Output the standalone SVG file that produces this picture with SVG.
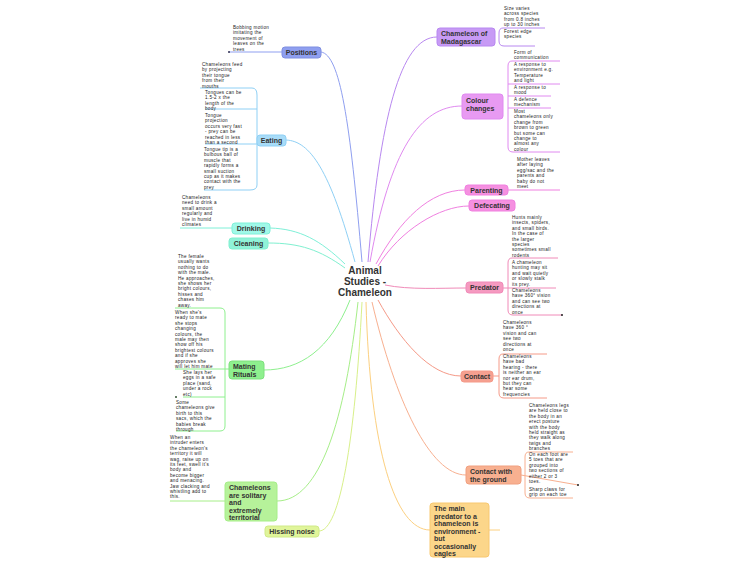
<svg xmlns="http://www.w3.org/2000/svg" width="750" height="563" viewBox="0 0 750 563">
<style>
.n{font-family:"Liberation Sans",Arial,sans-serif;font-size:4.6px;letter-spacing:0.3px;fill:#222}
.t{font-family:"Liberation Sans",Arial,sans-serif;font-size:7px;font-weight:bold;fill:#333}
.c{fill:none;stroke-width:1}
rect{stroke-width:1}
</style>
<rect width="750" height="563" fill="#fff"/>
<g id="connectors" class="c">
<path d="M362,262 C350,120 340,55 321,52" stroke="#8f9ff0"/>
<path d="M355,262 C330,170 310,141 286,140" stroke="#8fd0f5"/>
<path d="M345,264 C320,240 300,229 270,228" stroke="#7ff0d8"/>
<path d="M345,268 C320,250 300,243 268,243" stroke="#80f0d0"/>
<path d="M350,300 C330,350 300,370 264,370" stroke="#8ef08e"/>
<path d="M358,302 C345,420 320,501 277,501" stroke="#a6ee88"/>
<path d="M362,302 C355,440 340,531 319,531" stroke="#d8f08a"/>
<path d="M368,262 C380,120 400,37 437,37" stroke="#b888f0"/>
<path d="M370,262 C390,150 420,106 462,106" stroke="#e08af0"/>
<path d="M376,264 C400,220 430,190 465,190" stroke="#f080e0"/>
<path d="M378,266 C400,230 440,206 469,206" stroke="#f080e0"/>
<path d="M385,285 C410,290 440,288 466,288" stroke="#f08ab8"/>
<path d="M378,300 C400,340 430,376 461,376" stroke="#f59a88"/>
<path d="M372,302 C395,400 430,475 466,475" stroke="#f8b090"/>
<path d="M366,302 C370,450 395,530 430,530" stroke="#fcd080"/>
<!-- leaf lines -->
<g stroke="#8f9ff0"><path d="M229,52 L282,52"/></g>
<g stroke="#8fd0f5"><path d="M200,88 L252,88 M252,88 Q257,88 257,95 L257,185 Q257,190 250,190 L204,190 M205,109 L257,109 M205,144 L257,144 M257,140 L257,140"/></g>
<g stroke="#7ff0d8"><path d="M180,228 L232,228"/></g>
<g stroke="#8ef08e"><path d="M175,308 L220,308 Q225,308 225,313 L225,426 Q225,431 220,431 L176,431 M175,369 L229,369 M183,397 L225,397"/></g>
<g stroke="#a6ee88"><path d="M170,501 L225,501"/></g>
<g stroke="#b888f0"><path d="M503,28 L545,28 M503,28 Q499,28 499,33 L499,41 Q499,46 504,46 L535,46"/></g>
<g stroke="#e08af0"><path d="M512,61 L560,61 M512,61 Q508,61 508,66 L508,147 Q508,152 513,152 L560,152 M508,84 L560,84 M508,96 L551,96 M508,108 L551,108"/></g>
<g stroke="#f080e0"><path d="M508,190 L560,190"/></g>
<g stroke="#f08ab8"><path d="M512,258 L558,258 M512,258 Q508,258 508,263 L508,310 Q508,315 513,315 L562,315 M503,288 L556,288"/></g>
<g stroke="#f59a88"><path d="M503,354 L547,354 M503,354 Q499,354 499,359 L499,393 Q499,398 504,398 L547,398 M493,376 L499,376"/></g>
<g stroke="#f8b090"><path d="M529,452 L573,452 M529,452 Q525,452 525,457 L525,493 Q525,498 530,498 L573,498 M521,475 L578,485"/></g>
<g stroke="#fcd080"><path d="M489,530 L500,530"/></g>
<circle cx="229" cy="52" r="1" fill="#335"/>
<circle cx="176" cy="397" r="1" fill="#353"/>
<circle cx="562" cy="315" r="1" fill="#222"/>
<circle cx="578" cy="485" r="1" fill="#222"/>
</g>
<g id="center"><text class="t" x="365" y="274" text-anchor="middle" font-size="10"><tspan x="365" style="font-size:10px">Animal</tspan><tspan x="365" dy="11" style="font-size:10px">Studies -</tspan><tspan x="365" dy="11" style="font-size:10px">Chameleon</tspan></text></g>
<g id="positions"><rect x="282" y="47" width="39" height="11" rx="3" fill="#8f9ff0" stroke="#7f8fe0"/><text class="t" x="301.5" y="55" text-anchor="middle">Positions</text>
<text class="n" x="233" y="29"><tspan x="233">Bobbing motion</tspan><tspan x="233" dy="5.4">imitating the</tspan><tspan x="233" dy="5.4">movement of</tspan><tspan x="233" dy="5.4">leaves on the</tspan><tspan x="233" dy="5.4">trees</tspan></text></g>
<g id="eating"><rect x="257" y="135" width="29" height="11" rx="3" fill="#a8dcf8" stroke="#8fd0f5"/><text class="t" x="271.5" y="143" text-anchor="middle">Eating</text>
<text class="n" x="202" y="66"><tspan x="202">Chameleons feed</tspan><tspan x="202" dy="5.4">by projecting</tspan><tspan x="202" dy="5.4">their tongue</tspan><tspan x="202" dy="5.4">from their</tspan><tspan x="202" dy="5.4">mouths</tspan></text>
<text class="n" x="205" y="94"><tspan x="205">Tongues can be</tspan><tspan x="205" dy="5.4">1.5-2 x the</tspan><tspan x="205" dy="5.4">length of the</tspan><tspan x="205" dy="5.4">body</tspan></text>
<text class="n" x="205" y="117"><tspan x="205">Tongue</tspan><tspan x="205" dy="5.4">projection</tspan><tspan x="205" dy="5.4">occurs very fast</tspan><tspan x="205" dy="5.4">- prey can be</tspan><tspan x="205" dy="5.4">reached in less</tspan><tspan x="205" dy="5.4">than a second</tspan></text>
<text class="n" x="204" y="151"><tspan x="204">Tongue tip is a</tspan><tspan x="204" dy="5.4">bulbous ball of</tspan><tspan x="204" dy="5.4">muscle that</tspan><tspan x="204" dy="5.4">rapidly forms a</tspan><tspan x="204" dy="5.4">small suction</tspan><tspan x="204" dy="5.4">cup as it makes</tspan><tspan x="204" dy="5.4">contact with the</tspan><tspan x="204" dy="5.4">prey</tspan></text></g>
<g id="drinking"><rect x="232" y="223" width="38" height="11" rx="3" fill="#a0f8e8" stroke="#7ff0d8"/><text class="t" x="251" y="231" text-anchor="middle">Drinking</text>
<text class="n" x="182" y="199"><tspan x="182">Chameleons</tspan><tspan x="182" dy="5.4">need to drink a</tspan><tspan x="182" dy="5.4">small amount</tspan><tspan x="182" dy="5.4">regularly and</tspan><tspan x="182" dy="5.4">live in humid</tspan><tspan x="182" dy="5.4">climates</tspan></text></g>
<g id="cleaning"><rect x="229" y="238" width="39" height="11" rx="3" fill="#90f2d8" stroke="#80f0d0"/><text class="t" x="248.5" y="246" text-anchor="middle">Cleaning</text></g>
<g id="mating"><rect x="229" y="361" width="35" height="18" rx="3" fill="#8ef08e" stroke="#7ee07e"/><text class="t" x="233" y="369"><tspan x="233">Mating</tspan><tspan x="233" dy="7.5">Rituals</tspan></text>
<text class="n" x="178" y="258"><tspan x="178">The female</tspan><tspan x="178" dy="5.4">usually wants</tspan><tspan x="178" dy="5.4">nothing to do</tspan><tspan x="178" dy="5.4">with the male.</tspan><tspan x="178" dy="5.4">He approaches,</tspan><tspan x="178" dy="5.4">she shows her</tspan><tspan x="178" dy="5.4">bright colours,</tspan><tspan x="178" dy="5.4">hisses and</tspan><tspan x="178" dy="5.4">chases him</tspan><tspan x="178" dy="5.4">away.</tspan></text>
<text class="n" x="175" y="314"><tspan x="175">When she's</tspan><tspan x="175" dy="5.4">ready to mate</tspan><tspan x="175" dy="5.4">she stops</tspan><tspan x="175" dy="5.4">changing</tspan><tspan x="175" dy="5.4">colours, the</tspan><tspan x="175" dy="5.4">male may then</tspan><tspan x="175" dy="5.4">show off his</tspan><tspan x="175" dy="5.4">brightest colours</tspan><tspan x="175" dy="5.4">and if she</tspan><tspan x="175" dy="5.4">approves she</tspan><tspan x="175" dy="5.4">will let him mate</tspan></text>
<text class="n" x="183" y="374"><tspan x="183">She lays her</tspan><tspan x="183" dy="5.4">eggs in a safe</tspan><tspan x="183" dy="5.4">place (sand,</tspan><tspan x="183" dy="5.4">under a rock</tspan><tspan x="183" dy="5.4">etc)</tspan></text>
<text class="n" x="176" y="404"><tspan x="176">Some</tspan><tspan x="176" dy="5.4">chameleons give</tspan><tspan x="176" dy="5.4">birth to this</tspan><tspan x="176" dy="5.4">sacs, which the</tspan><tspan x="176" dy="5.4">babies break</tspan><tspan x="176" dy="5.4">through</tspan></text></g>
<g id="solitary"><rect x="225" y="482" width="52" height="39" rx="3" fill="#b6f29a" stroke="#a6ee88"/><text class="t" x="229" y="490"><tspan x="229">Chameleons</tspan><tspan x="229" dy="7.5">are solitary</tspan><tspan x="229" dy="7.5">and</tspan><tspan x="229" dy="7.5">extremely</tspan><tspan x="229" dy="7.5">territorial</tspan></text>
<text class="n" x="170" y="439"><tspan x="170">When an</tspan><tspan x="170" dy="5.4">intruder enters</tspan><tspan x="170" dy="5.4">the chameleon's</tspan><tspan x="170" dy="5.4">territory it will</tspan><tspan x="170" dy="5.4">wag, raise up on</tspan><tspan x="170" dy="5.4">its feet, swell it's</tspan><tspan x="170" dy="5.4">body and</tspan><tspan x="170" dy="5.4">become bigger</tspan><tspan x="170" dy="5.4">and menacing.</tspan><tspan x="170" dy="5.4">Jaw clacking and</tspan><tspan x="170" dy="5.4">whistling add to</tspan><tspan x="170" dy="5.4">this.</tspan></text></g>
<g id="hissing"><rect x="265" y="526" width="54" height="11" rx="3" fill="#e0f59a" stroke="#d0ea88"/><text class="t" x="292" y="534" text-anchor="middle">Hissing noise</text></g>
<g id="madagascar"><rect x="437" y="28" width="58" height="18" rx="3" fill="#c79af5" stroke="#b888f0"/><text class="t" x="441" y="36"><tspan x="441">Chameleon of</tspan><tspan x="441" dy="7.5">Madagascar</tspan></text>
<text class="n" x="504" y="10"><tspan x="504">Size varies</tspan><tspan x="504" dy="5.4">across species</tspan><tspan x="504" dy="5.4">from 0.8 inches</tspan><tspan x="504" dy="5.4">up to 30 inches</tspan></text>
<text class="n" x="504" y="33"><tspan x="504">Forest edge</tspan><tspan x="504" dy="5.4">species</tspan></text></g>
<g id="colour"><rect x="462" y="94" width="41" height="25" rx="3" fill="#e89af2" stroke="#e08af0"/><text class="t" x="466" y="103"><tspan x="466">Colour</tspan><tspan x="466" dy="7.5">changes</tspan></text>
<text class="n" x="514" y="54"><tspan x="514">Form of</tspan><tspan x="514" dy="5.4">communication</tspan></text>
<text class="n" x="514" y="66"><tspan x="514">A response to</tspan><tspan x="514" dy="5.4">environment e.g.</tspan><tspan x="514" dy="5.4">Temperature</tspan><tspan x="514" dy="5.4">and light</tspan></text>
<text class="n" x="514" y="89"><tspan x="514">A response to</tspan><tspan x="514" dy="5.4">mood</tspan></text>
<text class="n" x="514" y="101"><tspan x="514">A defence</tspan><tspan x="514" dy="5.4">mechanism</tspan></text>
<text class="n" x="514" y="113"><tspan x="514">Most</tspan><tspan x="514" dy="5.4">chameleons only</tspan><tspan x="514" dy="5.4">change from</tspan><tspan x="514" dy="5.4">brown to green</tspan><tspan x="514" dy="5.4">but some can</tspan><tspan x="514" dy="5.4">change to</tspan><tspan x="514" dy="5.4">almost any</tspan><tspan x="514" dy="5.4">colour</tspan></text></g>
<g id="parenting"><rect x="465" y="185" width="43" height="10" rx="3" fill="#f590e0" stroke="#f080e0"/><text class="t" x="486.5" y="192.5" text-anchor="middle">Parenting</text>
<text class="n" x="517" y="161"><tspan x="517">Mother leaves</tspan><tspan x="517" dy="5.4">after laying</tspan><tspan x="517" dy="5.4">egg/sac and the</tspan><tspan x="517" dy="5.4">parents and</tspan><tspan x="517" dy="5.4">baby do not</tspan><tspan x="517" dy="5.4">meet</tspan></text></g>
<g id="defecating"><rect x="469" y="200" width="46" height="11" rx="3" fill="#f590e0" stroke="#f080e0"/><text class="t" x="492" y="208" text-anchor="middle">Defecating</text></g>
<g id="predator"><rect x="466" y="282" width="37" height="11" rx="3" fill="#f59ac0" stroke="#f08ab8"/><text class="t" x="484.5" y="290" text-anchor="middle">Predator</text>
<text class="n" x="512" y="219"><tspan x="512">Hunts mainly</tspan><tspan x="512" dy="5.4">insects, spiders,</tspan><tspan x="512" dy="5.4">and small birds.</tspan><tspan x="512" dy="5.4">In the case of</tspan><tspan x="512" dy="5.4">the larger</tspan><tspan x="512" dy="5.4">species</tspan><tspan x="512" dy="5.4">sometimes small</tspan><tspan x="512" dy="5.4">rodents</tspan></text>
<text class="n" x="512" y="264"><tspan x="512">A chameleon</tspan><tspan x="512" dy="5.4">hunting may sit</tspan><tspan x="512" dy="5.4">and wait quietly</tspan><tspan x="512" dy="5.4">or slowly stalk</tspan><tspan x="512" dy="5.4">its prey.</tspan></text>
<text class="n" x="512" y="292"><tspan x="512">Chameleons</tspan><tspan x="512" dy="5.4">have 360° vision</tspan><tspan x="512" dy="5.4">and can see two</tspan><tspan x="512" dy="5.4">directions at</tspan><tspan x="512" dy="5.4">once</tspan></text></g>
<g id="contact"><rect x="461" y="371" width="32" height="11" rx="3" fill="#f5a090" stroke="#f59a88"/><text class="t" x="477" y="379" text-anchor="middle">Contact</text>
<text class="n" x="503" y="324"><tspan x="503">Chameleons</tspan><tspan x="503" dy="5.4">have 360 °</tspan><tspan x="503" dy="5.4">vision and can</tspan><tspan x="503" dy="5.4">see two</tspan><tspan x="503" dy="5.4">directions at</tspan><tspan x="503" dy="5.4">once</tspan></text>
<text class="n" x="503" y="358"><tspan x="503">Chameleons</tspan><tspan x="503" dy="5.4">have bad</tspan><tspan x="503" dy="5.4">hearing  - there</tspan><tspan x="503" dy="5.4">is neither an ear</tspan><tspan x="503" dy="5.4">nor ear drum,</tspan><tspan x="503" dy="5.4">but they can</tspan><tspan x="503" dy="5.4">hear some</tspan><tspan x="503" dy="5.4">frequencies</tspan></text></g>
<g id="ground"><rect x="466" y="466" width="55" height="18" rx="3" fill="#f8b090" stroke="#f0a080"/><text class="t" x="470" y="474"><tspan x="470">Contact with</tspan><tspan x="470" dy="7.5">the ground</tspan></text>
<text class="n" x="529" y="407"><tspan x="529">Chameleons legs</tspan><tspan x="529" dy="5.4">are held close to</tspan><tspan x="529" dy="5.4">the body in an</tspan><tspan x="529" dy="5.4">erect posture</tspan><tspan x="529" dy="5.4">with the body</tspan><tspan x="529" dy="5.4">held straight as</tspan><tspan x="529" dy="5.4">they walk along</tspan><tspan x="529" dy="5.4">twigs and</tspan><tspan x="529" dy="5.4">branches</tspan></text>
<text class="n" x="529" y="456"><tspan x="529">On each foot are</tspan><tspan x="529" dy="5.4">5 toes that are</tspan><tspan x="529" dy="5.4">grouped into</tspan><tspan x="529" dy="5.4">two sections of</tspan><tspan x="529" dy="5.4">either 2 or 3</tspan><tspan x="529" dy="5.4">toes.</tspan></text>
<text class="n" x="529" y="491"><tspan x="529">Sharp claws for</tspan><tspan x="529" dy="5.4">grip on each toe</tspan></text></g>
<g id="mainpredator"><rect x="430" y="503" width="59" height="54" rx="3" fill="#fcd68a" stroke="#f8c870"/><text class="t" x="434" y="511"><tspan x="434">The main</tspan><tspan x="434" dy="7.5">predator to a</tspan><tspan x="434" dy="7.5">chameleon is</tspan><tspan x="434" dy="7.5">environment -</tspan><tspan x="434" dy="7.5">but</tspan><tspan x="434" dy="7.5">occasionally</tspan><tspan x="434" dy="7.5">eagles</tspan></text></g>
</svg>
